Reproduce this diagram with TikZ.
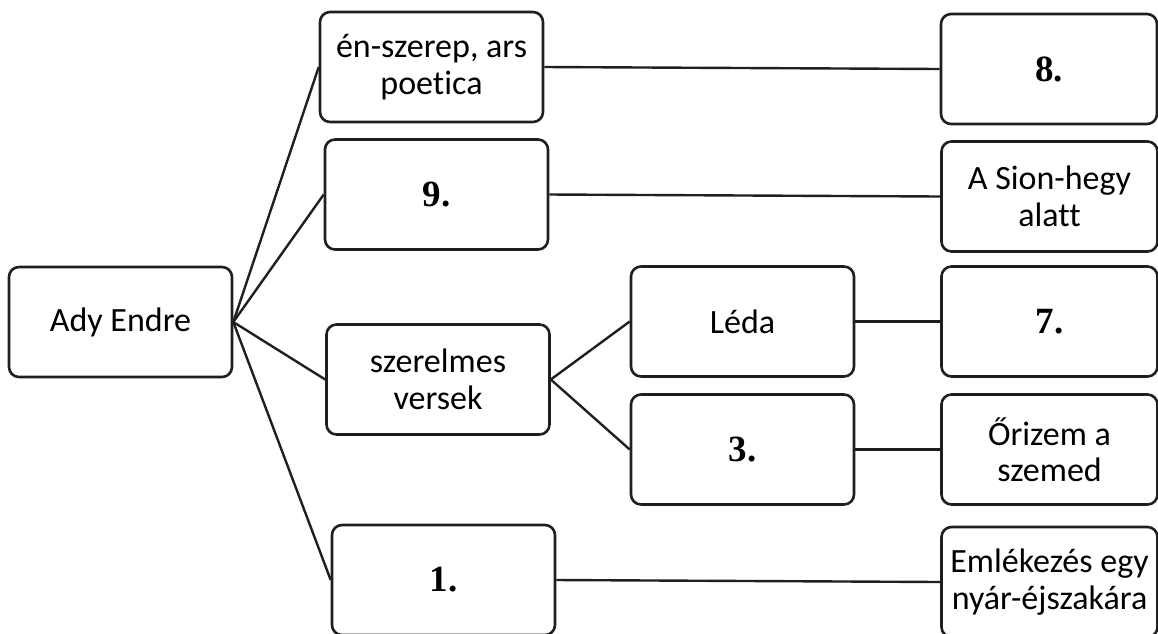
\documentclass[tikz,border=0pt]{standalone}
\usepackage{fontspec}
\setmainfont{Carlito}[Ligatures={NoCommon}]
\newfontfamily\numfont{Liberation Serif}
\begin{document}
\begin{tikzpicture}[x=1pt,y=-1pt,
  box/.style={draw=black!88, line width=2.6pt, rounded corners=10pt, rectangle,
    minimum width=223pt, minimum height=110pt, inner sep=0pt, align=center,
    font=\fontsize{34}{36.6}\selectfont},
  rbox/.style={box, minimum width=216pt},
  num/.style={font=\numfont\bfseries\fontsize{37}{40}\selectfont},
  conn/.style={draw=black!88, line width=2.4pt}]
\useasboundingbox (0,0) rectangle (1158,633);
\node[box] (ady) at (120.5,322) {Ady Endre};
\node[box] (en) at (431.5,67) {én-szerep, ars\\poetica};
\node[box,num] (nine) at (436.5,194.5) {9.};
\node[box] (szer) at (438,379.5) {szerelmes\\versek};
\node[box,num] (one) at (443.5,580) {1.};
\node[box] (leda) at (742.5,321.5) {Léda};
\node[box,num] (three) at (742.5,449.5) {3.};
\node[rbox,num] (eight) at (1049,69) {8.};
\node[rbox] (sion) at (1049.5,196.5) {A Sion-hegy\\alatt};
\node[rbox,num] (seven) at (1049.5,321.5) {7.};
\node[rbox] (oriz) at (1049.5,449.5) {Őrizem a\\szemed};
\node[rbox] (emlek) at (1049.5,582) {Emlékezés egy\\nyár-éjszakára};
\draw[conn] (ady.east) -- (en.west);
\draw[conn] (ady.east) -- (nine.west);
\draw[conn] (ady.east) -- (szer.west);
\draw[conn] (ady.east) -- (one.west);
\draw[conn] (en.east) -- (eight.west);
\draw[conn] (nine.east) -- (sion.west);
\draw[conn] (szer.east) -- (leda.west);
\draw[conn] (szer.east) -- (three.west);
\draw[conn] (leda.east) -- (seven.west);
\draw[conn] (three.east) -- (oriz.west);
\draw[conn] (one.east) -- (emlek.west);
\end{tikzpicture}
\end{document}
